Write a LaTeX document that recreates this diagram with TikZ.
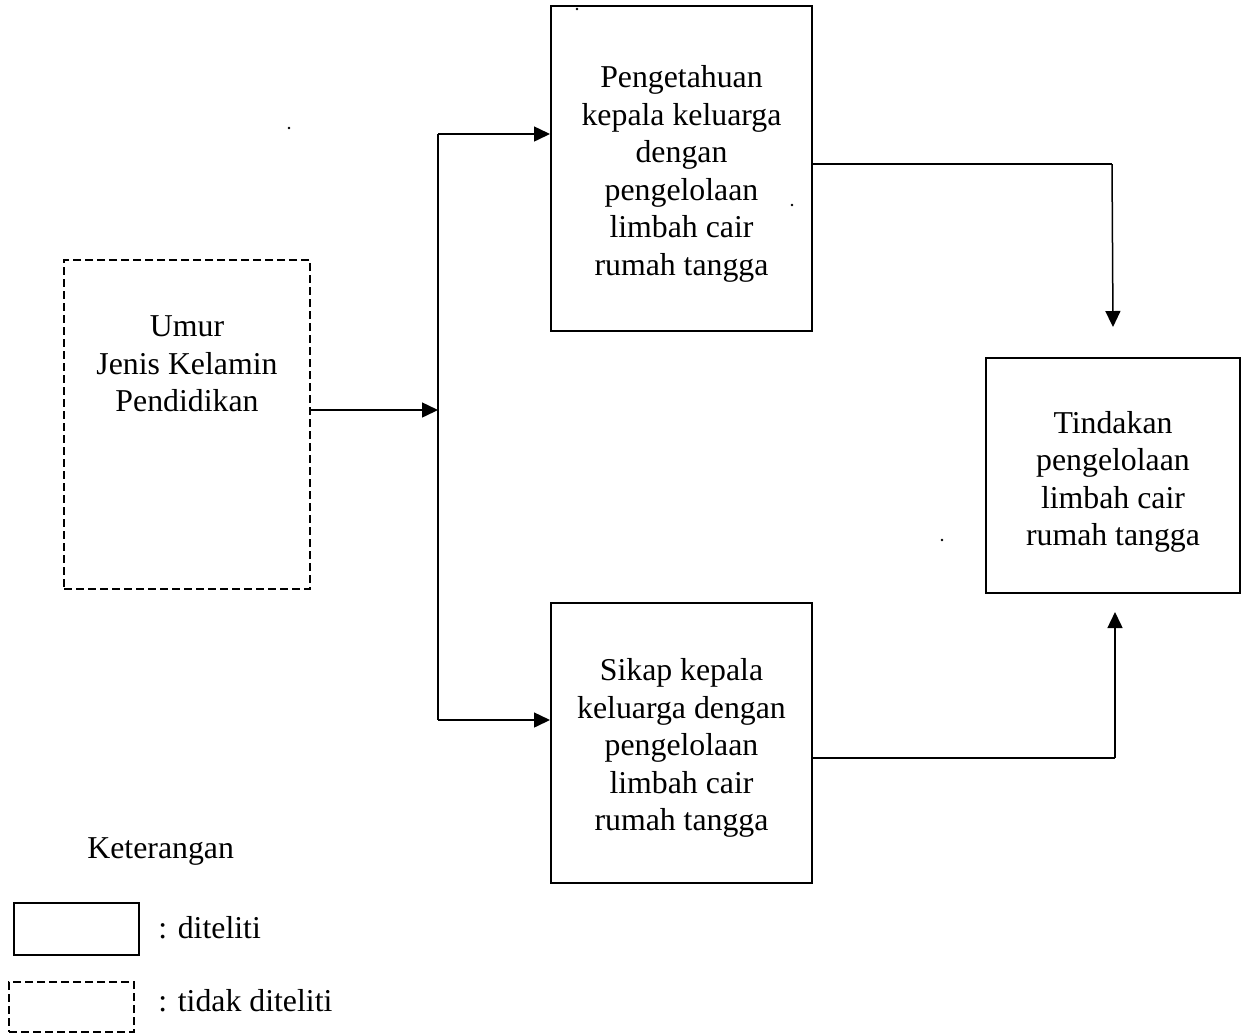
\documentclass[tikz,border=0pt]{standalone}
\usepackage{fontspec}
\setmainfont{Liberation Serif}
\usetikzlibrary{arrows.meta}
\begin{document}
\begin{tikzpicture}[x=0.5pt,y=-0.5pt,
  box/.style={draw,line width=1pt,inner sep=0pt},
  dbox/.style={draw,line width=1.2pt,dash pattern=on 4pt off 2pt,inner sep=0pt},
  txt/.style={align=center,font=\fontsize{15.9}{18.75}\selectfont,inner sep=0pt},
  conn/.style={line width=0.75pt},
  arr/.style={conn,-{Triangle[length=8pt,width=7.5pt]}},
  dot/.style={fill,circle,inner sep=0pt,minimum size=1.4pt}]
\useasboundingbox (0,0) rectangle (1241,1034);
% main boxes
\node[dbox,minimum width=123pt,minimum height=164.5pt] (umur) at (187,424.5) {};
\node[txt] (umurtxt) at (187,364) {Umur\\Jenis Kelamin\\Pendidikan};
\node[box,minimum width=130.5pt,minimum height=162.5pt] (p1) at (681.5,168.5) {};
\node[txt] (p1txt) at (681.5,174)
  {Pengetahuan\\kepala keluarga\\dengan\\pengelolaan\\limbah cair\\rumah tangga};
\node[box,minimum width=130.5pt,minimum height=140pt] (p2) at (681.5,743) {};
\node[txt] (p2txt) at (681.5,748)
  {Sikap kepala\\keluarga dengan\\pengelolaan\\limbah cair\\rumah tangga};
\node[box,minimum width=127pt,minimum height=117.5pt] (t) at (1113,475.5) {};
\node[txt] (ttxt) at (1113,482)
  {Tindakan\\pengelolaan\\limbah cair\\rumah tangga};
% junction
\coordinate (jt) at (438,134);
\coordinate (jm) at (438,410);
\coordinate (jb) at (438,720);
\coordinate (ttop) at (1112,164);
\coordinate (tin) at (1113,327);
\coordinate (bbot) at (1115,758);
\coordinate (bin) at (1115,612);
\draw[conn] (jt) -- (jb);
\draw[arr] (umur.east |- jm) -- (jm);
\draw[arr] (jt) -- (p1.west |- jt);
\draw[arr] (jb) -- (p2.west |- jb);
\draw[conn] (p1.east |- ttop) -- (ttop);
\draw[arr] (ttop) -- (tin);
\draw[conn] (p2.east |- bbot) -- (bbot);
\draw[arr] (bbot) -- (bin);
% legend
\node[txt,anchor=west] (ket) at (87,852) {Keterangan};
\node[box,minimum width=62.5pt,minimum height=26pt] (lsolid) at (76.5,929) {};
\node[txt,anchor=west] (ldit) at (158,928) {: diteliti};
\node[dbox,minimum width=62.5pt,minimum height=25pt] (ldash) at (71.5,1007) {};
\node[txt,anchor=west] (ltdk) at (158,1001) {: tidak diteliti};
% stray dots
\node[dot] (d1) at (577,9) {};
\node[dot] (d2) at (289,128) {};
\node[dot] (d3) at (792,205) {};
\node[dot] (d4) at (942,540) {};
\end{tikzpicture}
\end{document}
